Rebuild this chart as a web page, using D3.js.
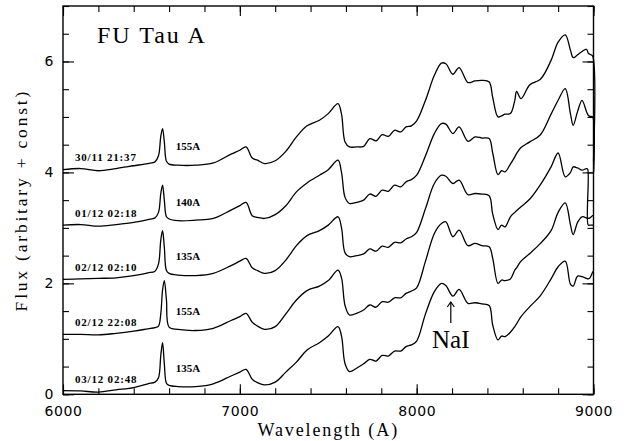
<!DOCTYPE html>
<html lang="en">
<head>
<meta charset="utf-8">
<title>FU Tau A spectra</title>
<script src="https://d3js.org/d3.v7.min.js"></script>
<style>
  body { margin: 0; background: #fff; }
  svg { display: block; }
  .tick text { font-family: "DejaVu Sans", sans-serif; font-size: 14px; letter-spacing: 0.6px; fill: #000; }
  .tick line { stroke: #000; stroke-width: 1.1px; }
  .lab { font-family: "Liberation Serif", serif; fill: #000; }
</style>
</head>
<body>
<script>
// wavelength grid (Angstrom), shared by all spectra
const wave = [6000, 6100, 6200, 6300, 6400, 6480, 6520, 6540, 6553, 6563, 6573, 6585, 6600, 6650, 6750, 6850,
  6950, 7000, 7035, 7070, 7100, 7140, 7200, 7260, 7320, 7380, 7450, 7500, 7555, 7575, 7595, 7620, 7660,
  7700, 7735, 7770, 7805, 7840, 7875, 7910, 7940, 7970, 8000, 8050, 8100, 8140, 8165, 8205, 8240, 8290,
  8330, 8370, 8410, 8430, 8460, 8480, 8500, 8530, 8555, 8565, 8590, 8640, 8700, 8760, 8800, 8840, 8870,
  8885, 8910, 8935, 8960, 8967, 8970, 8980, 8995, 9000];

// flux (arbitrary + const), one array per night
const flux3011 = [4.05, 4.07, 4.03, 4.07, 4.12, 4.16, 4.19, 4.30, 4.65, 4.79, 4.55, 4.20, 4.15, 4.13, 4.13, 4.17,
  4.33, 4.40, 4.46, 4.26, 4.22, 4.16, 4.21, 4.38, 4.64, 4.84, 4.94, 5.06, 5.24, 5.05, 4.55, 4.46, 4.46,
  4.47, 4.61, 4.57, 4.68, 4.65, 4.76, 4.73, 4.82, 4.84, 4.93, 5.30, 5.75, 5.97, 5.96, 5.77, 5.89, 5.62,
  5.65, 5.66, 5.63, 5.35, 5.00, 5.02, 5.05, 5.06, 5.30, 5.46, 5.33, 5.58, 5.68, 6.02, 6.35, 6.48, 6.20,
  6.07, 6.12, 6.18, 6.22, 6.18, 6.15, 6.13, 6.10, 4.20];
const flux0112 = [3.05, 3.06, 3.03, 3.06, 3.10, 3.15, 3.18, 3.28, 3.62, 3.77, 3.50, 3.20, 3.16, 3.13, 3.14, 3.17,
  3.32, 3.40, 3.46, 3.22, 3.19, 3.17, 3.24, 3.40, 3.65, 3.81, 3.95, 4.05, 4.22, 4.00, 3.55, 3.44, 3.46,
  3.50, 3.61, 3.57, 3.68, 3.66, 3.77, 3.74, 3.83, 3.87, 3.95, 4.30, 4.70, 4.88, 4.87, 4.70, 4.82, 4.56,
  4.64, 4.62, 4.61, 4.35, 3.96, 4.03, 4.01, 4.15, 4.28, 4.34, 4.45, 4.55, 4.68, 5.05, 5.30, 5.51, 5.05,
  4.85, 5.10, 5.30, 5.10, 5.05, 5.03, 5.01, 5.00, 4.00];
const flux0212a = [2.07, 2.08, 2.09, 2.10, 2.14, 2.19, 2.22, 2.35, 2.78, 2.95, 2.65, 2.23, 2.18, 2.15, 2.14, 2.18,
  2.32, 2.40, 2.45, 2.28, 2.23, 2.18, 2.23, 2.42, 2.68, 2.86, 2.95, 3.05, 3.20, 3.00, 2.55, 2.48, 2.50,
  2.53, 2.62, 2.58, 2.67, 2.65, 2.74, 2.73, 2.80, 2.84, 2.92, 3.35, 3.80, 3.95, 3.93, 3.80, 3.86, 3.60,
  3.62, 3.61, 3.58, 3.25, 2.97, 3.05, 3.02, 3.20, 3.28, 3.31, 3.38, 3.52, 3.78, 4.10, 4.35, 3.92, 4.00,
  4.10, 4.08, 4.04, 4.07, 4.06, 3.05, 3.05, 3.05, 3.05];
const flux0212b = [1.08, 1.08, 1.07, 1.10, 1.14, 1.18, 1.20, 1.23, 1.45, 1.88, 2.05, 1.70, 1.21, 1.17, 1.15, 1.19,
  1.33, 1.40, 1.46, 1.30, 1.23, 1.17, 1.22, 1.45, 1.70, 1.87, 1.95, 2.05, 2.24, 2.10, 1.60, 1.43, 1.46,
  1.52, 1.61, 1.57, 1.67, 1.66, 1.74, 1.74, 1.82, 1.86, 1.92, 2.40, 2.90, 3.08, 3.11, 2.84, 2.96, 2.68,
  2.72, 2.68, 2.66, 2.45, 2.00, 2.06, 2.05, 2.08, 2.24, 2.28, 2.40, 2.54, 2.72, 2.95, 3.28, 3.45, 3.05,
  2.88, 3.10, 3.20, 3.18, 3.17, 3.17, 3.18, 3.22, 3.22];
const flux0312 = [0.065, 0.06, 0.04, 0.08, 0.12, 0.19, 0.22, 0.30, 0.70, 0.93, 0.55, 0.20, 0.16, 0.14, 0.14, 0.19,
  0.33, 0.40, 0.45, 0.27, 0.21, 0.17, 0.22, 0.40, 0.58, 0.80, 0.93, 1.05, 1.22, 1.05, 0.55, 0.41, 0.47,
  0.55, 0.63, 0.60, 0.70, 0.69, 0.78, 0.78, 0.86, 0.89, 0.96, 1.45, 1.85, 2.00, 1.96, 1.77, 1.89, 1.64,
  1.65, 1.63, 1.60, 1.25, 0.98, 1.05, 1.04, 1.12, 1.22, 1.27, 1.40, 1.58, 1.78, 2.08, 2.30, 2.40, 1.98,
  1.95, 2.13, 2.12, 2.09, 2.08, 2.08, 2.10, 2.20, 2.22];

const series = [flux3011, flux0112, flux0212a, flux0212b, flux0312];
const dates = ["30/11 21:37", "01/12 02:18", "02/12 02:10", "02/12 22:08", "03/12 02:48"];
const haWidths = ["155A", "140A", "135A", "155A", "135A"];

const W = 627, H = 441;
const x = d3.scaleLinear().domain([6000, 9000]).range([63, 593.5]);
const y = d3.scaleLinear().domain([0, 7]).range([394.3, 6]);

const svg = d3.select("body").append("svg").attr("width", W).attr("height", H);

// axes: ticks pointing inwards on all four sides
const majX = d3.range(6000, 9001, 1000), minX = d3.range(6000, 9001, 200);
const majY = d3.range(0, 7.01, 2), minY = d3.range(0, 7.01, 0.5);

function addAxis(axis, tr) {
  const g = svg.append("g").attr("transform", tr).call(axis);
  g.select(".domain").remove();
  return g;
}
const yBot = y(0), yTop = y(7), xLft = x(6000), xRgt = x(9000);
addAxis(d3.axisBottom(x).tickValues(minX).tickSize(-6).tickFormat(""), `translate(0,${yBot})`);
addAxis(d3.axisBottom(x).tickValues(majX).tickSize(-10).tickPadding(12).tickFormat(d3.format("d")), `translate(0,${yBot})`);
addAxis(d3.axisTop(x).tickValues(minX).tickSize(-6).tickFormat(""), `translate(0,${yTop})`);
addAxis(d3.axisTop(x).tickValues(majX).tickSize(-10).tickFormat(""), `translate(0,${yTop})`);
addAxis(d3.axisLeft(y).tickValues(minY).tickSize(-6).tickFormat(""), `translate(${xLft},0)`);
addAxis(d3.axisLeft(y).tickValues(majY).tickSize(-11).tickPadding(9).tickFormat(d3.format("d")), `translate(${xLft},0)`);
addAxis(d3.axisRight(y).tickValues(minY).tickSize(-6).tickFormat(""), `translate(${xRgt},0)`);
addAxis(d3.axisRight(y).tickValues(majY).tickSize(-11).tickFormat(""), `translate(${xRgt},0)`);

svg.append("rect")
  .attr("x", xLft).attr("y", yTop)
  .attr("width", xRgt - xLft).attr("height", yBot - yTop)
  .attr("fill", "none").attr("stroke", "#000").attr("stroke-width", 1.4);

// spectra
const line = d3.line()
  .x((d, i) => x(wave[i]))
  .y(d => y(d))
  .curve(d3.curveCatmullRom.alpha(0.5));

svg.append("g").selectAll("path")
  .data(series)
  .enter().append("path")
  .attr("d", line)
  .attr("fill", "none")
  .attr("stroke", "#000")
  .attr("stroke-width", 1.3)
  .attr("stroke-linejoin", "round");

// per-spectrum labels: date/time and H-alpha equivalent width
const i6100 = wave.indexOf(6100);
svg.append("g").selectAll("text")
  .data(series)
  .enter().append("text")
  .attr("class", "lab")
  .attr("x", x(6068))
  .attr("y", d => y(d[i6100]) - 8)
  .attr("font-size", "11px")
  .attr("font-weight", "bold")
  .attr("letter-spacing", "0.8px")
  .text((d, i) => dates[i]);

svg.append("g").selectAll("text")
  .data(series)
  .enter().append("text")
  .attr("class", "lab")
  .attr("x", x(6638))
  .attr("y", d => y(d[i6100]) - 19)
  .attr("font-size", "11px")
  .attr("font-weight", "bold")
  .text((d, i) => haWidths[i]);

// title
svg.append("text")
  .attr("class", "lab")
  .attr("x", x(6192)).attr("y", 42.7)
  .attr("font-size", "24px")
  .attr("letter-spacing", "2px")
  .text("FU Tau A");

// Na I marker
const naX = x(8193);
svg.append("line")
  .attr("x1", naX).attr("x2", naX)
  .attr("y1", 302).attr("y2", 323)
  .attr("stroke", "#000").attr("stroke-width", 1.2);
svg.append("path")
  .attr("d", `M${naX - 3.5},${307} L${naX},${302} L${naX + 3.5},${307}`)
  .attr("fill", "none").attr("stroke", "#000").attr("stroke-width", 1.2);
svg.append("text")
  .attr("class", "lab")
  .attr("x", naX).attr("y", 348)
  .attr("text-anchor", "middle")
  .attr("font-size", "25px")
  .text("NaI");

// axis titles
svg.append("text")
  .attr("class", "lab")
  .attr("x", (xLft + xRgt) / 2).attr("y", 436)
  .attr("text-anchor", "middle")
  .attr("font-size", "18px")
  .attr("letter-spacing", "1.9px")
  .text("Wavelength (A)");

svg.append("text")
  .attr("class", "lab")
  .attr("transform", `translate(27,${(yTop + yBot) / 2}) rotate(-90)`)
  .attr("text-anchor", "middle")
  .attr("font-size", "17.5px")
  .attr("letter-spacing", "2.8px")
  .text("Flux (arbitary + const)");
</script>
</body>
</html>
